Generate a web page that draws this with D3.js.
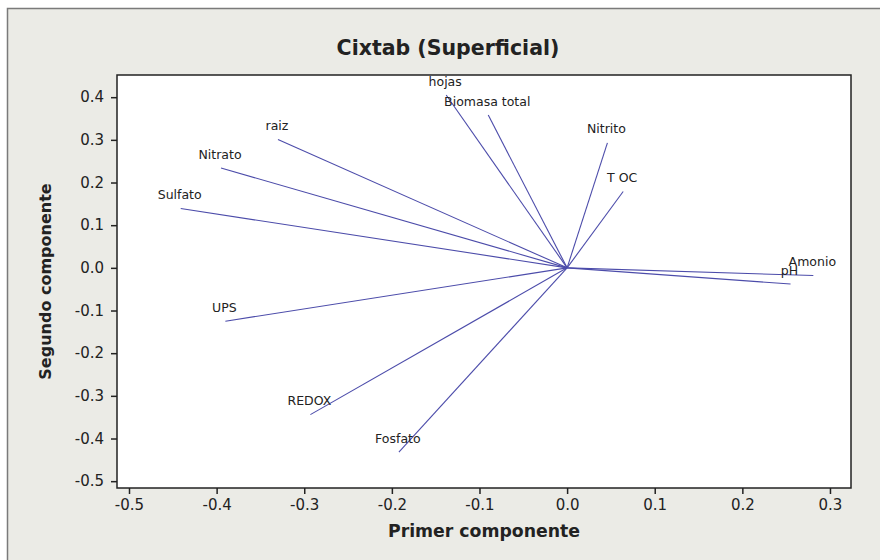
<!DOCTYPE html>
<html>
<head>
<meta charset="utf-8">
<script src="https://cdn.jsdelivr.net/npm/d3@7"></script>
<style>
  body { margin: 0; background: #fff; }
  svg text { font-family: "DejaVu Sans", Verdana, sans-serif; fill: #222; }
</style>
</head>
<body>
<div class="chart"></div>
<script>
// loadings
var variables = ["hojas", "Biomasa total", "raiz", "Nitrato", "Sulfato", "Nitrito",
                 "T OC", "UPS", "REDOX", "Fosfato", "Amonio", "pH"];
var pc1 = [-0.138, -0.090, -0.330, -0.395, -0.441, 0.046, 0.064, -0.390, -0.293, -0.192, 0.281, 0.255];
var pc2 = [0.405, 0.358, 0.301, 0.234, 0.139, 0.293, 0.179, -0.125, -0.344, -0.432, -0.018, -0.038];

var xTicks = [-0.5, -0.4, -0.3, -0.2, -0.1, 0.0, 0.1, 0.2, 0.3];
var yTicks = [0.4, 0.3, 0.2, 0.1, 0.0, -0.1, -0.2, -0.3, -0.4, -0.5];

var w = 880;
var h = 560;
var pLeft = 117, pRight = 851, pTop = 75, pBottom = 488;

var svg = d3.select(".chart")
            .append("svg")
            .attr("width", w)
            .attr("height", h);

// outer frame
svg.append("rect")
    .attr("x", 7.5)
    .attr("y", 8.5)
    .attr("width", w)
    .attr("height", h)
    .attr("fill", "#ebebe6")
    .attr("stroke", "#7a7a7a")
    .attr("stroke-width", 1.5);

var x = d3.scaleLinear().domain([-0.5137, 0.324]).range([pLeft, pRight]);
var y = d3.scaleLinear().domain([-0.516, 0.452]).range([pBottom, pTop]);

var fmt = function(d) { return d.toFixed(1); };

// plot area
svg.append("rect")
    .attr("x", pLeft)
    .attr("y", pTop)
    .attr("width", pRight - pLeft)
    .attr("height", pBottom - pTop)
    .attr("fill", "#fff");

var xAxis = svg.append("g")
    .attr("transform", "translate(0," + pBottom + ")")
    .call(d3.axisBottom(x).tickValues(xTicks).tickFormat(fmt)
            .tickSize(6).tickPadding(5).tickSizeOuter(0));

var yAxis = svg.append("g")
    .attr("transform", "translate(" + pLeft + ",0)")
    .call(d3.axisLeft(y).tickValues(yTicks).tickFormat(fmt)
            .tickSize(6).tickPadding(7).tickSizeOuter(0));

[xAxis, yAxis].forEach(function(g) {
  g.select(".domain").remove();
  g.selectAll(".tick line").attr("stroke", "#222").attr("stroke-width", 1.5);
  g.selectAll(".tick text")
    .attr("font-family", "DejaVu Sans, Verdana, sans-serif")
    .attr("font-size", "15px")
    .attr("fill", "#2a2a3a");
});

// loading lines
var idx = d3.range(variables.length);

svg.selectAll("line.load")
    .data(idx)
    .enter()
    .append("line")
    .attr("class", "load")
    .attr("x1", x(0))
    .attr("y1", y(0))
    .attr("x2", function(i) { return x(pc1[i]); })
    .attr("y2", function(i) { return y(pc2[i]); })
    .attr("stroke", "#4c4caa")
    .attr("stroke-width", 1.1);

svg.selectAll("text.lab")
    .data(idx)
    .enter()
    .append("text")
    .attr("class", "lab")
    .text(function(i) { return variables[i]; })
    .attr("x", function(i) { return x(pc1[i]) - 1; })
    .attr("y", function(i) { return y(pc2[i]) - 9.5; })
    .attr("text-anchor", "middle")
    .attr("font-size", "12.5px")
    .attr("fill", "#1a1a1a");

// plot border
svg.append("rect")
    .attr("x", pLeft)
    .attr("y", pTop)
    .attr("width", pRight - pLeft)
    .attr("height", pBottom - pTop)
    .attr("fill", "none")
    .attr("stroke", "#222")
    .attr("stroke-width", 1.5);

svg.append("text")
    .text("Cixtab (Superficial)")
    .attr("x", 448)
    .attr("y", 55)
    .attr("text-anchor", "middle")
    .attr("font-weight", "bold")
    .attr("font-size", "20.5px");

svg.append("text")
    .text("Primer componente")
    .attr("x", (pLeft + pRight) / 2)
    .attr("y", 537)
    .attr("text-anchor", "middle")
    .attr("font-weight", "bold")
    .attr("font-size", "17.3px");

svg.append("text")
    .text("Segundo componente")
    .attr("transform", "translate(51," + ((pTop + pBottom) / 2) + ") rotate(-90)")
    .attr("text-anchor", "middle")
    .attr("font-weight", "bold")
    .attr("font-size", "16px");
</script>
</body>
</html>
